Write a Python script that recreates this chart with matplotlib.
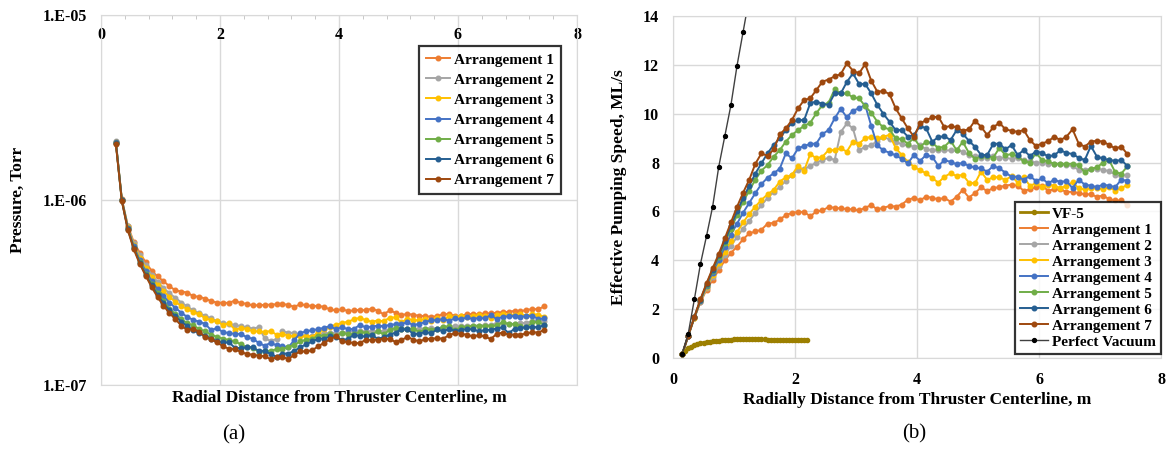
import numpy as np
import matplotlib
matplotlib.use("Agg")
import matplotlib.pyplot as plt
from matplotlib.ticker import MultipleLocator, NullLocator, FixedLocator

plt.rcParams['font.family'] = ['Liberation Serif', 'DejaVu Serif']

# ---------------- data ----------------
# (a) pressure, units of 1e-7 Torr, x = 0.25 ... 7.45 m step 0.1
x_a = np.round(np.arange(0.25, 7.451, 0.1), 2)
P1 = [20.3, 10.12, 7.28, 5.93, 5.19, 4.61, 4.15, 3.86, 3.64, 3.42, 3.25, 3.20, 3.16, 3.02, 3.00, 2.93, 2.84, 2.79, 2.78, 2.78,
      2.86, 2.77, 2.75, 2.69, 2.70, 2.71, 2.72, 2.73, 2.75, 2.70, 2.65, 2.73, 2.70, 2.67, 2.68, 2.64, 2.56, 2.53, 2.57, 2.51,
      2.53, 2.55, 2.53, 2.59, 2.52, 2.41, 2.53, 2.46, 2.38, 2.43, 2.39, 2.37, 2.35, 2.34, 2.35, 2.42, 2.41, 2.37, 2.35, 2.42,
      2.41, 2.41, 2.44, 2.44, 2.46, 2.48, 2.48, 2.52, 2.50, 2.55, 2.57, 2.57, 2.66]
P2 = [20.8, 10.06, 7.22, 5.82, 5.03, 4.43, 3.95, 3.61, 3.35, 3.13, 2.96, 2.79, 2.66, 2.53, 2.44, 2.37, 2.29, 2.21, 2.16, 2.14,
      2.11, 2.08, 2.05, 2.02, 2.05, 1.79, 1.73, 1.77, 1.95, 1.92, 1.91, 1.87, 1.83, 1.85, 1.88, 1.90, 1.91, 1.92, 1.91, 1.94,
      1.95, 1.95, 1.95, 1.95, 1.95, 1.96, 2.00, 2.01, 2.02, 2.02, 2.01, 2.02, 2.02, 2.04, 2.02, 2.05, 2.06, 2.08, 2.08, 2.09,
      2.09, 2.09, 2.10, 2.11, 2.16, 2.16, 2.14, 2.14, 2.16, 2.17, 2.21, 2.23, 2.21]
P3 = [20.5, 10.06, 7.16, 5.72, 4.88, 4.28, 3.82, 3.47, 3.22, 2.99, 2.81, 2.68, 2.57, 2.48, 2.41, 2.30, 2.24, 2.21, 2.11, 2.16,
      1.99, 2.03, 2.01, 1.95, 1.95, 1.93, 1.96, 1.87, 1.89, 1.85, 1.83, 1.85, 1.83, 1.82, 1.93, 2.00, 2.07, 2.12, 2.16, 2.20,
      2.26, 2.31, 2.24, 2.20, 2.23, 2.21, 2.31, 2.32, 2.18, 2.28, 2.24, 2.24, 2.28, 2.23, 2.31, 2.24, 2.35, 2.32, 2.37, 2.34,
      2.35, 2.39, 2.35, 2.31, 2.39, 2.41, 2.39, 2.39, 2.41, 2.37, 2.42, 2.39, 2.34]
P4 = [20.5, 10.00, 7.06, 5.63, 4.74, 4.13, 3.65, 3.29, 3.02, 2.79, 2.61, 2.46, 2.33, 2.25, 2.20, 2.14, 1.98, 2.03, 1.93, 1.91,
      1.89, 1.89, 1.81, 1.78, 1.69, 1.63, 1.69, 1.64, 1.62, 1.60, 1.75, 1.91, 1.95, 1.98, 2.00, 2.04, 2.08, 2.00, 2.06, 2.00,
      2.01, 2.11, 2.05, 2.07, 2.09, 2.08, 2.11, 2.13, 2.14, 2.18, 2.11, 2.14, 2.19, 2.24, 2.24, 2.27, 2.23, 2.29, 2.26, 2.32,
      2.27, 2.31, 2.29, 2.39, 2.27, 2.34, 2.35, 2.37, 2.34, 2.35, 2.37, 2.27, 2.29]
P5 = [20.4, 9.94, 7.00, 5.53, 4.64, 4.00, 3.52, 3.14, 2.84, 2.59, 2.42, 2.27, 2.16, 2.10, 2.01, 1.95, 1.87, 1.82, 1.78, 1.75,
      1.72, 1.66, 1.60, 1.59, 1.51, 1.53, 1.53, 1.56, 1.56, 1.61, 1.65, 1.72, 1.76, 1.77, 1.85, 1.85, 1.89, 1.84, 1.92, 1.88,
      1.89, 1.93, 1.92, 1.87, 1.95, 1.88, 1.98, 2.04, 2.01, 2.01, 2.02, 1.93, 2.00, 1.99, 2.01, 2.06, 2.08, 1.98, 2.05, 2.06,
      2.09, 2.09, 2.09, 2.09, 2.10, 2.18, 2.14, 2.13, 2.08, 2.05, 2.18, 2.20, 2.11]
P6 = [20.3, 9.94, 6.97, 5.50, 4.59, 3.95, 3.46, 3.07, 2.77, 2.53, 2.35, 2.20, 2.08, 1.98, 1.90, 1.85, 1.78, 1.72, 1.70, 1.70,
      1.59, 1.58, 1.60, 1.60, 1.53, 1.53, 1.47, 1.42, 1.48, 1.48, 1.53, 1.60, 1.66, 1.72, 1.78, 1.78, 1.83, 1.82, 1.75, 1.77,
      1.87, 1.84, 1.83, 1.86, 1.78, 1.81, 1.87, 1.92, 2.00, 2.00, 1.89, 1.89, 1.94, 1.90, 2.00, 1.95, 2.01, 1.96, 1.98, 2.01,
      2.00, 1.95, 1.98, 1.99, 2.02, 2.05, 1.91, 2.01, 2.03, 2.05, 2.06, 2.05, 2.11]
P7 = [20.0, 9.88, 6.89, 5.42, 4.52, 3.90, 3.39, 2.99, 2.68, 2.45, 2.27, 2.09, 1.98, 2.01, 1.94, 1.81, 1.77, 1.70, 1.62, 1.57,
      1.56, 1.51, 1.47, 1.46, 1.44, 1.43, 1.38, 1.41, 1.42, 1.38, 1.46, 1.52, 1.52, 1.54, 1.62, 1.69, 1.77, 1.83, 1.73, 1.70,
      1.69, 1.68, 1.76, 1.75, 1.76, 1.78, 1.77, 1.71, 1.75, 1.82, 1.76, 1.72, 1.77, 1.78, 1.79, 1.78, 1.86, 1.91, 1.89, 1.87,
      1.83, 1.86, 1.83, 1.77, 1.89, 1.92, 1.87, 1.87, 1.87, 1.90, 1.93, 1.92, 1.99]

# (b) effective pumping speed, ML/s, x = 0.15 ... 7.45 m step 0.1
x_b = np.round(np.arange(0.15, 7.451, 0.1), 2)
S1 = [0.15, 0.91, 1.64, 2.28, 2.8, 3.2, 3.6, 4.0, 4.3, 4.56, 4.86, 5.1,
      5.18, 5.25, 5.5, 5.53, 5.67, 5.85, 5.94, 5.98, 5.98, 5.8, 6.0, 6.04, 6.18, 6.15, 6.12,
      6.1, 6.08, 6.04, 6.15, 6.26, 6.08, 6.15, 6.22, 6.2, 6.28, 6.48, 6.55, 6.45, 6.61, 6.55,
      6.5, 6.55, 6.4, 6.6, 6.88, 6.57, 6.75, 6.98, 6.84, 6.95, 7.0, 7.05, 7.1, 7.05, 6.85,
      6.9, 7.0, 7.05, 6.85, 6.9, 6.9, 6.8, 6.8, 6.75, 6.7, 6.7, 6.6, 6.65, 6.5, 6.45, 6.45, 6.25]
S2 = [0.15, 0.91, 1.65, 2.3, 2.85, 3.3, 3.75, 4.2, 4.6, 4.95, 5.3, 5.6,
      5.95, 6.25, 6.55, 6.8, 7.0, 7.25, 7.5, 7.7, 7.75, 7.85, 8.0, 8.1, 8.2, 8.1, 9.25,
      9.6, 9.4, 8.5, 8.65, 8.7, 8.9, 9.05, 8.95, 8.85, 8.75, 8.7, 8.65, 8.7, 8.55, 8.5,
      8.5, 8.5, 8.5, 8.5, 8.45, 8.3, 8.25, 8.2, 8.2, 8.25, 8.2, 8.2, 8.15, 8.2, 8.1,
      8.05, 8.0, 8.0, 7.95, 7.95, 7.95, 7.9, 7.85, 7.7, 7.7, 7.75, 7.75, 7.7, 7.65, 7.5, 7.45, 7.5]
S3 = [0.15, 0.91, 1.65, 2.32, 2.9, 3.4, 3.88, 4.35, 4.78, 5.15, 5.55, 5.9,
      6.2, 6.47, 6.7, 6.88, 7.22, 7.4, 7.5, 7.86, 7.67, 8.35, 8.17, 8.24, 8.51, 8.51, 8.58,
      8.45, 8.86, 8.78, 8.99, 9.06, 8.99, 9.06, 9.13, 8.6, 8.31, 8.03, 7.83, 7.69, 7.56, 7.36,
      7.18, 7.42, 7.56, 7.45, 7.5, 7.18, 7.15, 7.63, 7.29, 7.4, 7.4, 7.29, 7.45, 7.18, 7.4,
      7.05, 7.15, 7.0, 7.1, 7.05, 6.95, 7.05, 7.2, 6.95, 6.9, 6.95, 6.95, 6.9, 7.0, 6.85, 6.95, 7.1]
S4 = [0.15, 0.92, 1.66, 2.35, 2.95, 3.5, 4.02, 4.55, 5.05, 5.5, 5.95, 6.35,
      6.75, 7.12, 7.38, 7.56, 7.75, 8.38, 8.17, 8.58, 8.68, 8.76, 8.78, 9.17, 9.33, 9.81, 10.2,
      9.85, 10.13, 10.22, 10.36, 9.5, 8.7, 8.5, 8.4, 8.3, 8.15, 7.97, 8.31, 8.07, 8.31, 8.24,
      7.86, 8.1, 8.03, 7.93, 7.99, 7.86, 7.8, 7.76, 7.63, 7.86, 7.76, 7.59, 7.42, 7.42, 7.3,
      7.45, 7.25, 7.35, 7.15, 7.3, 7.2, 7.25, 6.95, 7.3, 7.1, 7.05, 7.0, 7.1, 7.05, 7.0, 7.3, 7.25]
S5 = [0.15, 0.92, 1.67, 2.37, 3.0, 3.58, 4.15, 4.72, 5.28, 5.85, 6.4, 6.85,
      7.3, 7.67, 7.9, 8.24, 8.51, 8.86, 9.13, 9.33, 9.5, 9.63, 10.02, 10.36, 10.45, 11.0, 10.83,
      10.83, 10.67, 10.63, 10.31, 10.04, 9.67, 9.44, 9.36, 8.99, 8.95, 8.78, 9.0, 8.65, 8.85, 8.8,
      8.6, 8.65, 8.9, 8.5, 8.85, 8.4, 8.15, 8.25, 8.25, 8.2, 8.6, 8.3, 8.35, 8.25, 8.05,
      8.0, 8.4, 8.1, 8.05, 7.95, 7.95, 7.95, 7.95, 7.9, 7.6, 7.75, 7.8, 8.0, 8.1, 7.6, 7.55, 7.85]
S6 = [0.15, 0.92, 1.67, 2.38, 3.02, 3.62, 4.2, 4.8, 5.4, 6.0, 6.55, 7.05,
      7.55, 7.97, 8.38, 8.72, 8.99, 9.33, 9.63, 9.74, 9.74, 10.43, 10.5, 10.4, 10.36, 10.83, 10.83,
      11.3, 11.65, 11.22, 11.22, 10.83, 10.36, 9.99, 9.67, 9.33, 9.33, 9.06, 9.13, 9.5, 9.4, 8.86,
      9.04, 9.08, 8.92, 9.33, 9.19, 8.89, 8.65, 8.31, 8.31, 8.76, 8.78, 8.54, 8.72, 8.31, 8.51,
      8.27, 8.45, 8.4, 8.25, 8.3, 8.5, 8.4, 8.35, 8.2, 8.1, 8.68, 8.24, 8.17, 8.1, 8.07, 8.1, 7.86]
S7 = [0.15, 0.92, 1.68, 2.41, 3.06, 3.67, 4.26, 4.9, 5.55, 6.19, 6.77, 7.3,
      7.95, 8.38, 8.27, 8.54, 9.15, 9.4, 9.74, 10.22, 10.56, 10.63, 10.97, 11.31, 11.4, 11.53, 11.62,
      12.06, 11.76, 11.65, 12.03, 11.35, 10.9, 10.93, 10.8, 10.22, 9.81, 9.4, 9.06, 9.6, 9.74, 9.85,
      9.88, 9.44, 9.5, 9.44, 9.3, 9.36, 9.71, 9.47, 9.13, 9.44, 9.63, 9.36, 9.3, 9.26, 9.33,
      8.92, 8.68, 8.78, 8.87, 9.06, 8.92, 9.06, 9.36, 8.78, 8.65, 8.86, 8.89, 8.86, 8.72, 8.58, 8.65, 8.34]

x_vf5 = np.round(np.arange(0.15, 2.201, 0.05), 2)
S_vf5 = [0.15, 0.30, 0.40, 0.47, 0.52, 0.56, 0.60, 0.63, 0.65, 0.67, 0.68, 0.70, 0.71, 0.72, 0.73, 0.74,
         0.75, 0.76, 0.77, 0.77, 0.78, 0.78, 0.78, 0.78, 0.77, 0.77, 0.76, 0.76, 0.75, 0.74, 0.74, 0.73,
         0.73, 0.73, 0.72, 0.73, 0.72, 0.72, 0.72, 0.72, 0.72, 0.72]

x_pv = np.round(np.arange(0.15, 1.251, 0.1), 2)
S_pv = [0.15, 1.0, 2.4, 3.85, 5.0, 6.2, 7.83, 9.09, 10.36, 11.97, 13.36, 14.75]

labels = ["Arrangement 1", "Arrangement 2", "Arrangement 3", "Arrangement 4",
          "Arrangement 5", "Arrangement 6", "Arrangement 7"]
colors = ["#ED7D31", "#A5A5A5", "#FFC000", "#4472C4", "#70AD47", "#255E91", "#9E480E"]
P_all = [P1, P2, P3, P4, P5, P6, P7]
S_all = [S1, S2, S3, S4, S5, S6, S7]

# ---------------- figure ----------------
W, H = 1172, 451
fig = plt.figure(figsize=(W / 100, H / 100), dpi=100)

def px_axes(l, t, r, b):
    return fig.add_axes([l / W, 1 - b / H, (r - l) / W, (b - t) / H])

grid_c = "#D9D9D9"
bold = dict(fontweight="bold")
leg_font = dict(family="Liberation Serif", weight="bold", size=11)

# ----- (a) -----
ax1 = px_axes(101, 15, 577, 385)
for P, c, lab in zip(P_all, colors, labels):
    ax1.plot(x_a, np.array(P) * 1e-7, color=c, lw=1.4, marker="o", ms=3.3,
             mec=c, mfc=c, label=lab)
ax1.set_yscale("log")
ax1.set_ylim(1e-7, 1e-5)
ax1.set_xlim(0, 8)
ax1.yaxis.set_major_locator(FixedLocator([1e-7, 1e-6, 1e-5]))
ax1.yaxis.set_minor_locator(NullLocator())
ax1.set_yticklabels(["1.E-07", "1.E-06", "1.E-05"])
ax1.xaxis.set_major_locator(MultipleLocator(2))
ax1.xaxis.set_minor_locator(MultipleLocator(0.4))
ax1.xaxis.set_ticks_position("top")
ax1.tick_params(axis="x", which="major", labeltop=True, labelbottom=False,
                length=0, pad=-20, labelsize=11.5)
ax1.tick_params(axis="x", which="minor", direction="in", length=3,
                color="#BFBFBF", top=True, bottom=False)
ax1.tick_params(axis="y", length=0, pad=10, labelsize=11.5)
for t in ax1.get_xticklabels() + ax1.get_yticklabels():
    t.set_fontweight("bold")
ax1.grid(True, which="major", color=grid_c, lw=1)
for s in ax1.spines.values():
    s.set_color(grid_c)
ax1.set_axisbelow(True)
ax1.set_xlabel("Radial Distance from Thruster Centerline, m", fontsize=12.5, **bold)
ax1.xaxis.label.set_va("center")
ax1.xaxis.set_label_coords(0.5, (385 - 398) / 370)
ax1.set_ylabel("Pressure, Torr", fontsize=12.5, **bold)
ax1.yaxis.label.set_va("center")
ax1.yaxis.set_label_coords((18 - 101) / 476, 0.5)
leg1 = ax1.legend(loc="upper right", bbox_to_anchor=((561 - 101) / 476, (385 - 46) / 370),
                  borderaxespad=0, frameon=True, fancybox=False, edgecolor="black",
                  prop=leg_font, handlelength=1.6, handletextpad=0.25, labelspacing=0.42,
                  borderpad=0.45, numpoints=1)
leg1.get_frame().set_linewidth(1.6)

# ----- (b) -----
ax2 = px_axes(673, 16, 1161, 358)
for S, c, lab in zip(S_all, colors, labels):
    ax2.plot(x_b, S, color=c, lw=1.4, marker="o", ms=3.3, mec=c, mfc=c, label=lab)
l_vf5, = ax2.plot(x_vf5, S_vf5, color="#9C7F00", lw=2.0, marker="o", ms=3.0,
                  mec="#9C7F00", mfc="#9C7F00", label="VF-5")
l_pv, = ax2.plot(x_pv, S_pv, color="#404040", lw=1.0, marker="o", ms=2.8,
                 mec="black", mfc="black", label="Perfect Vacuum")
ax2.set_xlim(0, 8)
ax2.set_ylim(0, 14)
ax2.xaxis.set_major_locator(MultipleLocator(2))
ax2.yaxis.set_major_locator(MultipleLocator(2))
ax2.tick_params(axis="both", length=0, labelsize=11.5)
ax2.tick_params(axis="x", pad=10)
ax2.tick_params(axis="y", pad=10)
for t in ax2.get_xticklabels() + ax2.get_yticklabels():
    t.set_fontweight("bold")
ax2.grid(True, color=grid_c, lw=1)
for s in ax2.spines.values():
    s.set_color(grid_c)
ax2.set_axisbelow(True)
ax2.set_xlabel("Radially Distance from Thruster Centerline, m", fontsize=12.5, **bold)
ax2.xaxis.label.set_va("center")
ax2.xaxis.set_label_coords(0.5, (358 - 400) / 342)
ax2.set_ylabel("Effective Pumping Speed, ML/s", fontsize=12.5, **bold)
ax2.yaxis.label.set_va("center")
ax2.yaxis.set_label_coords((619 - 673) / 488, 0.5)
handles, labs = ax2.get_legend_handles_labels()
order = [7] + list(range(7)) + [8]
leg2 = ax2.legend([handles[i] for i in order], [labs[i] for i in order],
                  loc="lower right", bbox_to_anchor=(1.0, (358 - 354) / 342),
                  borderaxespad=0, frameon=True, fancybox=False, edgecolor="black",
                  prop=leg_font, handlelength=1.8, handletextpad=0.25, labelspacing=0.15,
                  borderpad=0.35, numpoints=1)
leg2.get_frame().set_linewidth(1.6)

fig.text(234 / W, 1 - 435 / H, "(a)", ha="center", va="center", fontsize=15)
fig.text(914 / W, 1 - 434 / H, "(b)", ha="center", va="center", fontsize=15)

fig.savefig("out.png", dpi=100)
